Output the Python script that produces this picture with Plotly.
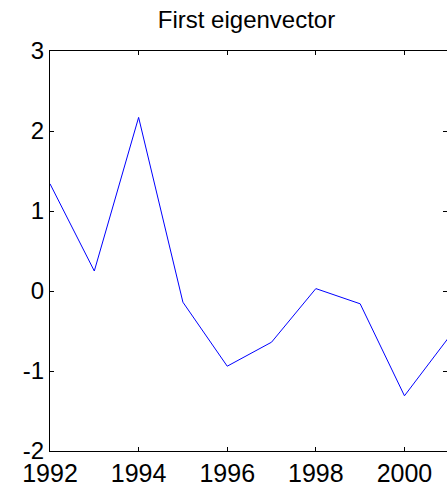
import plotly.graph_objects as go

# Yearly scores of the first eigenvector
years = [1992, 1993, 1994, 1995, 1996, 1997, 1998, 1999, 2000, 2001]
scores = [1.34, 0.25, 2.17, -0.14, -0.94, -0.64, 0.03, -0.16, -1.31, -0.58]

x_ticks = [1992, 1994, 1996, 1998, 2000]
y_ticks = [-2, -1, 0, 1, 2, 3]

FONT = "Liberation Sans, Arial, Helvetica, sans-serif"

fig = go.Figure(
    go.Scatter(
        x=years,
        y=scores,
        mode="lines",
        line=dict(color="#0000ff", width=1),
        hoverinfo="skip",
    )
)

axis_common = dict(
    showgrid=False,
    zeroline=False,
    showline=True,
    linecolor="black",
    linewidth=1,
    ticks="inside",
    ticklen=4,
    tickwidth=1,
    tickcolor="black",
    mirror="ticks",
)

fig.update_layout(
    width=447,
    height=492,
    margin=dict(l=50, r=0, t=51, b=41),
    paper_bgcolor="white",
    plot_bgcolor="white",
    showlegend=False,
    font=dict(family=FONT, color="black"),
    title=dict(
        text="First eigenvector",
        font=dict(family=FONT, size=24, color="black"),
        x=0.495,
        xanchor="center",
        xref="paper",
        y=1 - 19.5 / 492,
        yref="container",
        yanchor="middle",
    ),
    xaxis=dict(
        range=[1992, 2000.96],
        tickvals=x_ticks,
        ticktext=[str(v) for v in x_ticks],
        tickfont=dict(family=FONT, size=25, color="black"),
        **axis_common,
    ),
    yaxis=dict(
        range=[-2, 3],
        tickvals=y_ticks,
        ticktext=[str(v) for v in y_ticks],
        tickfont=dict(family=FONT, size=24, color="black"),
        **axis_common,
    ),
)

fig.write_html("out.html")
